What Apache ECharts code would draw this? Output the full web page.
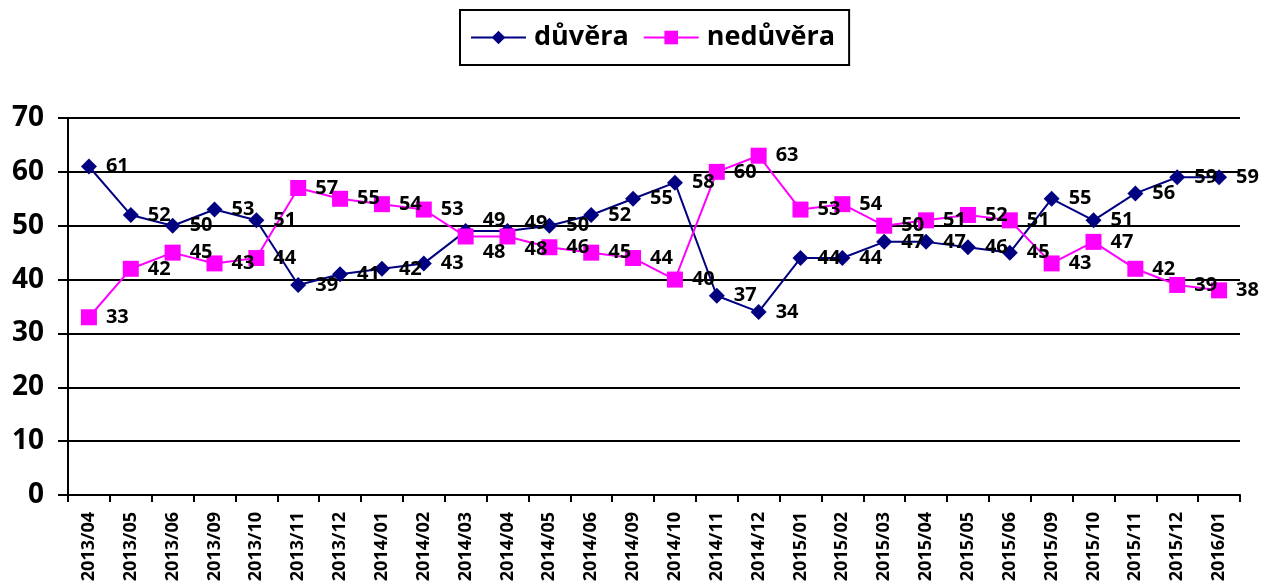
<!DOCTYPE html>
<html>
<head>
<meta charset="utf-8">
<script src="https://cdn.jsdelivr.net/npm/echarts@6/dist/echarts.min.js"></script>
<style>
  html, body { margin: 0; padding: 0; background: #fff; }
  #main { width: 1266px; height: 588px; }
</style>
</head>
<body>
<div id="main"></div>
<script>
// kategorie (mesice)
var months = ['2013/04','2013/05','2013/06','2013/09','2013/10','2013/11','2013/12',
  '2014/01','2014/02','2014/03','2014/04','2014/05','2014/06','2014/09','2014/10','2014/11','2014/12',
  '2015/01','2015/02','2015/03','2015/04','2015/05','2015/06','2015/09','2015/10','2015/11','2015/12','2016/01'];
var duvera = [61,52,50,53,51,39,41,42,43,49,49,50,52,55,58,37,34,44,44,47,47,46,45,55,51,56,59,59];
var neduvera = [33,42,45,43,44,57,55,54,53,48,48,46,45,44,40,60,63,53,54,50,51,52,51,43,47,42,39,38];
var yTicks = [0,10,20,30,40,50,60,70];

var font = '"Open Sans", "Liberation Sans", sans-serif';

// posunuti popisku, kde se prekryvaji (index -> [dx, dy])
var shiftDuvera = { 9: [0, -11], 10: [0, -8] };
var shiftNeduvera = { 9: [0, 16], 10: [0, 13] };

function withShift(values, shift) {
  return values.map(function (v, i) {
    if (!shift[i]) return v;
    return { value: v, label: { offset: shift[i] } };
  });
}

var chart = echarts.init(document.getElementById('main'));

var labelStyle = {
  show: true,
  position: 'right',
  distance: 9,
  color: '#000',
  fontWeight: 'bold',
  fontSize: 20,
  fontFamily: font
};

var option = {
  animation: false,
  legend: {
    top: 10,
    left: 460,
    padding: [14, 14, 14, 10],
    borderColor: '#000',
    borderWidth: 2,
    itemWidth: 55,
    itemHeight: 17,
    itemGap: 14,
    textStyle: { fontSize: 27, fontWeight: 'bold', color: '#000', fontFamily: font, padding: [0, 0, 0, 3] },
    data: ['důvěra', 'nedůvěra']
  },
  grid: { left: 68, right: 26, top: 118, bottom: 93 },
  xAxis: {
    type: 'category',
    data: months,
    boundaryGap: true,
    axisLine: { lineStyle: { color: '#000', width: 2 } },
    axisTick: { show: true, interval: 0, length: 7, lineStyle: { color: '#000', width: 2 } },
    axisLabel: {
      interval: 0,
      rotate: 90,
      margin: 17,
      color: '#000',
      fontWeight: 'bold',
      fontSize: 18,
      fontFamily: font
    }
  },
  yAxis: {
    type: 'value',
    min: yTicks[0],
    max: yTicks[yTicks.length - 1],
    interval: 10,
    axisLine: { show: true, lineStyle: { color: '#000', width: 2 } },
    axisTick: { show: true, length: 10, lineStyle: { color: '#000', width: 2 } },
    splitLine: { lineStyle: { color: '#000', width: 2 } },
    axisLabel: {
      margin: 24,
      color: '#000',
      fontWeight: 'bold',
      fontSize: 28,
      fontFamily: font
    }
  },
  series: [
    {
      name: 'důvěra',
      type: 'line',
      data: withShift(duvera, shiftDuvera),
      symbol: 'diamond',
      symbolSize: 16,
      color: '#000080',
      lineStyle: { color: '#000080', width: 2 },
      itemStyle: { color: '#000080' },
      label: labelStyle
    },
    {
      name: 'nedůvěra',
      type: 'line',
      data: withShift(neduvera, shiftNeduvera),
      symbol: 'rect',
      symbolSize: 16,
      color: '#ff00ff',
      lineStyle: { color: '#ff00ff', width: 2 },
      itemStyle: { color: '#ff00ff' },
      label: labelStyle
    }
  ]
};

chart.setOption(option);
</script>
</body>
</html>
